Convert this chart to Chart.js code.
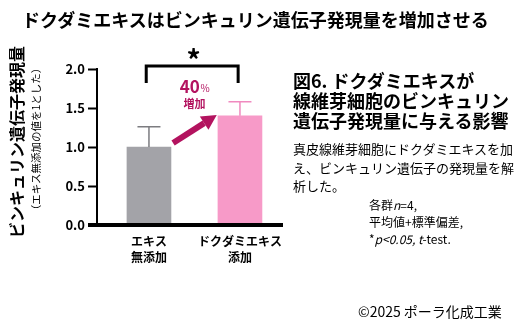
<!DOCTYPE html>
<html>
<head>
    <meta charset="utf-8">
    <title>ドクダミエキスとビンキュリン遺伝子発現量</title>
    <script src="https://cdn.jsdelivr.net/npm/chart.js"></script>
    <style>
        body {
            margin: 0;
            padding: 0;
            background: #fff;
            font-family: 'Noto Sans CJK JP', sans-serif;
            color: #000;
        }
        #wrap {
            position: relative;
            width: 525px;
            height: 330px;
            overflow: hidden;
        }
        #chart { position: absolute; left: 0; top: 0; }
        .txt { position: absolute; white-space: nowrap; }
        #title { left: 22px; top: 8px; font-size: 18px; font-weight: bold; line-height: 22px; }
        .rot { text-align: center; transform: rotate(-90deg); }
        #ytitle { left: -94px; top: 131px; width: 220px; font-size: 16px; font-weight: bold; line-height: 22px; }
        #ysub { left: -74px; top: 132px; width: 220px; font-size: 10.5px; line-height: 14px; }
        #fig { left: 293px; top: 70px; font-size: 18px; font-weight: bold; line-height: 20px; }
        #desc { left: 293px; top: 140px; font-size: 13px; line-height: 18.5px; }
        #note { left: 369px; top: 196px; font-size: 12px; line-height: 17px; }
        #copy { left: 358px; top: 301px; font-size: 14px; line-height: 20px; }
    </style>
</head>
<body>
<div id="wrap">
    <canvas id="chart" width="525" height="330"></canvas>
    <div class="txt" id="title">ドクダミエキスはビンキュリン遺伝子発現量を増加させる</div>
    <div class="txt rot" id="ytitle">ビンキュリン遺伝子発現量</div>
    <div class="txt rot" id="ysub">（エキス無添加の値を1とした）</div>
    <div class="txt" id="fig">図6. ドクダミエキスが<br>線維芽細胞のビンキュリン<br>遺伝子発現量に与える影響</div>
    <div class="txt" id="desc">真皮線維芽細胞にドクダミエキスを加<br>え、ビンキュリン遺伝子の発現量を解<br>析した。</div>
    <div class="txt" id="note">各群<i>n</i>=4,<br>平均値+標準偏差,<br>*<i>p&lt;0.05,</i> <i>t</i>-test.</div>
    <div class="txt" id="copy">©2025 ポーラ化成工業</div>
</div>
<script>
    // data
    const categories = [['エキス', '無添加'], ['ドクダミエキス', '添加']];
    const means = [1.0, 1.4];
    const errors = [0.26, 0.18];
    const yTicks = [0, 0.5, 1.0, 1.5, 2.0];

    const barColors = ['#a3a3a8', '#f79ac8'];
    const errColors = ['#7c7c80', '#f08abf'];
    const accent = '#b3135f';
    const font = "'Noto Sans CJK JP', sans-serif";

    Chart.defaults.font.family = font;
    Chart.defaults.color = '#000';

    // error bars, bracket, arrow and notes, all placed through the scales
    const extras = {
        id: 'extras',
        afterDatasetsDraw(chart) {
            const ctx = chart.ctx;
            const xs = chart.scales.x, ys = chart.scales.y;
            const bars = chart.getDatasetMeta(0).data;
            ctx.save();

            bars.forEach((bar, i) => {
                const top = ys.getPixelForValue(means[i] + errors[i]);
                ctx.strokeStyle = errColors[i];
                ctx.lineWidth = 1.5;
                ctx.beginPath();
                ctx.moveTo(bar.x, bar.y);
                ctx.lineTo(bar.x, top);
                ctx.moveTo(bar.x - 11.5, top);
                ctx.lineTo(bar.x + 11.5, top);
                ctx.stroke();
            });

            // x axis, thick, running under the y ticks
            const y0 = ys.getPixelForValue(0);
            ctx.strokeStyle = '#000';
            ctx.lineWidth = 4;
            ctx.beginPath();
            ctx.moveTo(chart.chartArea.left - 9, y0);
            ctx.lineTo(chart.chartArea.right, y0);
            ctx.stroke();

            // significance bracket
            const bTop = ys.getPixelForValue(2.04);
            const bLeg = ys.getPixelForValue(1.82);
            const bx0 = xs.getPixelForValue(-0.03), bx1 = xs.getPixelForValue(0.98);
            ctx.lineWidth = 3;
            ctx.beginPath();
            ctx.moveTo(bx0, bLeg);
            ctx.lineTo(bx0, bTop);
            ctx.lineTo(bx1, bTop);
            ctx.lineTo(bx1, bLeg);
            ctx.stroke();

            ctx.fillStyle = '#000';
            ctx.textAlign = 'center';
            ctx.textBaseline = 'middle';
            ctx.font = 'bold 28px ' + font;
            ctx.fillText('*', xs.getPixelForValue(0.49), ys.getPixelForValue(2.11));

            // 40% / 増加
            const mx = xs.getPixelForValue(0.5);
            const my = ys.getPixelForValue(1.78);
            ctx.fillStyle = accent;
            ctx.font = 'bold 17px ' + font;
            const w40 = ctx.measureText('40').width;
            ctx.font = '10px ' + font;
            const wp = ctx.measureText('%').width;
            const sx = mx - (w40 + wp) / 2;
            ctx.textAlign = 'left';
            ctx.font = 'bold 17px ' + font;
            ctx.fillText('40', sx, my);
            ctx.font = '10px ' + font;
            ctx.fillText('%', sx + w40 + 0.5, my + 2);
            ctx.textAlign = 'center';
            ctx.font = 'bold 11px ' + font;
            ctx.fillText('増加', mx, ys.getPixelForValue(1.56));

            // arrow
            const ax0 = xs.getPixelForValue(0.265), ay0 = ys.getPixelForValue(1.05);
            const ax1 = xs.getPixelForValue(0.745), ay1 = ys.getPixelForValue(1.41);
            const ang = Math.atan2(ay1 - ay0, ax1 - ax0);
            const head = 15, hw = 8;
            const bxh = ax1 - head * Math.cos(ang), byh = ay1 - head * Math.sin(ang);
            ctx.strokeStyle = accent;
            ctx.lineWidth = 6;
            ctx.beginPath();
            ctx.moveTo(ax0, ay0);
            ctx.lineTo(bxh, byh);
            ctx.stroke();
            ctx.fillStyle = accent;
            ctx.beginPath();
            ctx.moveTo(ax1, ay1);
            ctx.lineTo(bxh + hw * Math.sin(ang), byh - hw * Math.cos(ang));
            ctx.lineTo(bxh - hw * Math.sin(ang), byh + hw * Math.cos(ang));
            ctx.closePath();
            ctx.fill();

            ctx.restore();
        }
    };

    new Chart(document.getElementById('chart'), {
        type: 'bar',
        data: {
            datasets: [{
                data: means.map((v, i) => ({ x: i, y: v })),
                backgroundColor: barColors,
                borderWidth: 0,
                barThickness: 44
            }]
        },
        options: {
            responsive: false,
            animation: false,
            events: [],
            layout: { padding: { left: 0, right: 242, top: 69, bottom: 55 } },
            plugins: { legend: { display: false }, tooltip: { enabled: false } },
            scales: {
                x: {
                    type: 'linear',
                    offset: false,
                    min: -0.571,
                    max: 1.473,
                    afterFit: s => { s.height = 50; },
                    afterBuildTicks: s => { s.ticks = categories.map((c, i) => ({ value: i })); },
                    grid: { display: false, drawTicks: false, offset: false },
                    border: { display: false },
                    ticks: {
                        padding: 8,
                        maxRotation: 0,
                        autoSkip: false,
                        font: { size: 12, weight: 'bold', lineHeight: 1.35 },
                        callback: v => categories[v]
                    }
                },
                y: {
                    min: 0,
                    max: 2,
                    afterFit: s => { s.width = 97; },
                    afterBuildTicks: s => { s.ticks = yTicks.map(v => ({ value: v })); },
                    grid: { drawOnChartArea: false, tickLength: 9, tickWidth: 2, color: '#000' },
                    border: { color: '#000', width: 2 },
                    ticks: {
                        padding: 3,
                        font: { size: 13, weight: 'bold' },
                        callback: v => v.toFixed(1)
                    }
                }
            }
        },
        plugins: [extras]
    });
</script>
</body>
</html>
